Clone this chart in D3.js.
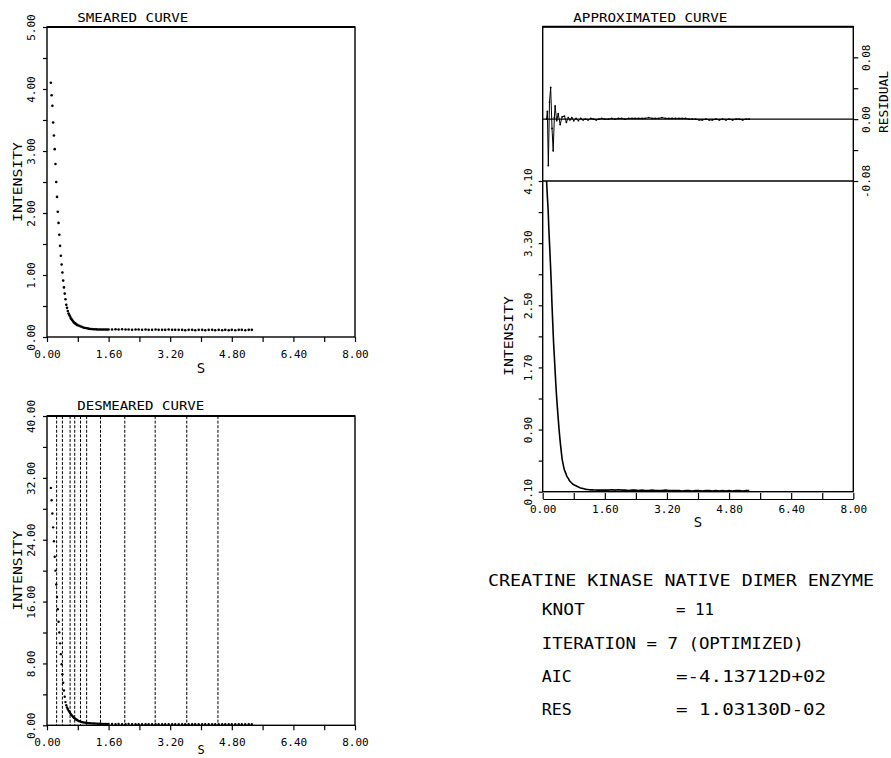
<!DOCTYPE html>
<html><head><meta charset="utf-8">
<script src="https://cdn.jsdelivr.net/npm/d3@7"></script>
<style>body{margin:0;background:#fff} svg{display:block}</style>
</head><body><svg id="c" width="891" height="758"></svg>
<script>
// ---------------- DATA ----------------
const sPts = [0.10,0.12,0.14,0.16,0.18,0.20,0.22,0.24,0.26,0.28,
  0.30,0.32,0.34,0.36,0.38,0.40,0.42,0.44,0.46,0.48,
  0.50,0.52,0.54,0.56,0.58,0.60,0.62,0.64,0.66,0.68,
  0.70,0.72,0.74,0.76,0.78,0.80,
  0.84,0.88,0.92,0.96,1.00,1.04,1.08,1.12,1.16,1.20,
  1.24,1.28,1.32,1.36,1.40,1.44,1.48,1.52,1.56,1.60,
  1.69,1.78,1.86,1.95,2.04,2.12,2.21,2.30,2.38,2.47,2.56,2.64,2.73,2.82,2.90,2.99,3.07,3.16,3.25,3.33,
  3.42,3.51,3.59,3.68,3.77,3.85,3.94,4.03,4.11,4.20,4.29,4.37,4.46,4.55,4.63,4.72,4.80,4.89,4.98,5.06,
  5.15,5.24,5.32];
const smearI = [4.10,3.90,3.73,3.46,3.25,3.03,2.79,2.50,2.26,2.02,
  1.84,1.65,1.47,1.31,1.17,1.04,0.91,0.80,0.70,0.61,
  0.52,0.47,0.42,0.38,0.355,0.33,0.30,0.285,0.27,0.25,
  0.235,0.225,0.215,0.205,0.195,0.19,
  0.18,0.17,0.16,0.15,0.145,0.14,0.135,0.13,0.128,0.125,
  0.124,0.123,0.122,0.121,0.12,0.12,0.12,0.12,0.12,0.12,
  0.12,0.125,0.12,0.125,0.12,0.12,0.115,0.12,0.12,0.115,
  0.12,0.115,0.115,0.12,0.115,0.115,0.115,0.12,0.115,0.115,
  0.115,0.115,0.11,0.115,0.115,0.11,0.115,0.115,0.11,0.115,
  0.115,0.11,0.115,0.11,0.115,0.11,0.115,0.11,0.115,0.115,
  0.11,0.115,0.115];
const desmearI = [30.7,29.1,27.4,25.6,23.8,21.8,20.0,18.2,16.6,15.0,
  13.4,12.0,10.6,9.2,7.9,6.6,5.5,4.5,3.7,3.0,
  2.6,2.3,2.1,1.9,1.75,1.6,1.45,1.32,1.2,1.08,
  0.98,0.9,0.82,0.75,0.68,0.62,
  0.52,0.45,0.40,0.36,0.33,0.30,0.28,0.26,0.25,0.24,
  0.23,0.22,0.21,0.20,0.20,0.19,0.19,0.18,0.18,0.17,
  0.16,0.15,0.16,0.15,0.15,0.16,0.15,0.15,0.14,0.15,
  0.15,0.14,0.15,0.15,0.14,0.15,0.14,0.15,0.14,0.14,
  0.15,0.14,0.14,0.15,0.14,0.14,0.13,0.14,0.14,0.13,
  0.14,0.14,0.13,0.14,0.13,0.14,0.13,0.13,0.14,0.13,
  0.13,0.14,0.13];
const resS = [0.10,0.12,0.145,0.175,0.205,0.24,0.27,0.30,0.32,0.36,0.40,0.45,0.50,0.56,0.61,0.66,
  0.70,0.75,0.80,0.86,0.92,0.98,1.04,1.10,1.17,1.24,1.31,1.38,1.45,1.52,1.60,
  1.69,1.78,1.86,1.95,2.04,2.12,2.21,2.30,2.38,2.47,2.56,2.64,2.73,2.82,2.90,2.99,3.07,3.16,3.25,3.33,
  3.42,3.51,3.59,3.68,3.77,3.85,3.94,4.03,4.11,4.20,4.29,4.37,4.46,4.55,4.63,4.72,4.80,4.89,4.98,5.06,
  5.15,5.24,5.32];
const resV = [0.000,0.010,-0.060,0.022,0.041,-0.012,-0.041,0.002,0.017,-0.002,0.007,-0.007,0.003,0.004,-0.004,0.002,
  -0.001,0.002,-0.002,0.001,-0.002,0.001,-0.001,0.000,-0.001,0.001,0.000,-0.001,0.000,0.001,0.000,
  0.000,0.001,0.000,0.001,0.001,0.000,0.001,0.001,0.001,0.001,0.001,0.001,0.002,0.001,0.001,0.001,0.002,0.001,0.001,0.001,
  0.001,0.001,0.001,0.001,0.000,0.000,0.000,-0.001,-0.001,0.000,-0.001,-0.001,0.000,-0.001,0.000,-0.001,0.000,-0.001,0.000,0.000,
  -0.001,0.000,0.000];
const knots = [0.25,0.40,0.60,0.72,0.87,1.03,1.39,2.02,2.81,3.63,4.44];

const xTickVals = [0,0.8,1.6,2.4,3.2,4.0,4.8,5.6,6.4,7.2,8.0];
const xTickLabels = ["0.00","","1.60","","3.20","","4.80","","6.40","","8.00"];
const smY = [0,0.5,1,1.5,2,2.5,3,3.5,4,4.5,5];
const smYLabels = ["0.00","","1.00","","2.00","","3.00","","4.00","","5.00"];
const dsY = [0,4,8,12,16,20,24,28,32,36,40];
const dsYLabels = ["0.00","","8.00","","16.00","","24.00","","32.00","","40.00"];
const apY = [0.10,0.50,0.90,1.30,1.70,2.10,2.50,2.90,3.30,3.70,4.10];
const apYLabels = ["0.10","","0.90","","1.70","","2.50","","3.30","","4.10"];
const rsY = [-0.08,-0.04,0,0.04,0.08];
const rsYLabels = ["-0.08","","0.00","","0.08"];

// ---------------- DRAW ----------------
const FONT = '"DejaVu Sans Mono", "Liberation Mono", monospace';
const svg = d3.select("#c");
const smear = sPts.map((s,i)=>({s, v: smearI[i]})).filter(d=>d.v!==undefined);
const desm = sPts.map((s,i)=>({s, v: desmearI[i]})).filter(d=>d.v!==undefined);
const resid = resS.map((s,i)=>({s, v: resV[i]})).filter(d=>d.v!==undefined);

function styleAxis(g){
  g.attr("font-family", FONT).attr("font-size", 11);
  g.selectAll(".tick line").attr("stroke","#000").attr("stroke-width",1.2);
  g.selectAll(".tick text").attr("fill","#000");
}
function rotLabels(g, yoff){
  g.selectAll(".tick text").attr("transform","rotate(-90)")
    .attr("x",0).attr("y",yoff).attr("dy",0).attr("text-anchor","middle");
}
function txt(x,y,str,size,len,rot){
  const t = svg.append("text").attr("font-family",FONT).attr("font-size",size).attr("fill","#000").text(str);
  if(rot){ t.attr("transform",`translate(${x},${y}) rotate(-90)`).attr("text-anchor","middle"); }
  else t.attr("x",x).attr("y",y);
  if(len) t.attr("textLength",len).attr("lengthAdjust","spacingAndGlyphs");
  return t;
}

function leftPanel(top, bot, yDom, yVals, yLabs, title, titleY, titleLen){
  const x = d3.scaleLinear().domain([0,8]).range([47,355]);
  const y = d3.scaleLinear().domain(yDom).range([bot, top]);
  svg.append("rect").attr("x",47).attr("y",top).attr("width",308).attr("height",bot-top)
    .attr("fill","none").attr("stroke","#000").attr("stroke-width",1.4);
  svg.append("line").attr("x1",47).attr("x2",355).attr("y1",top).attr("y2",top).attr("stroke","#000").attr("stroke-width",2);
  const gx = svg.append("g").attr("transform",`translate(0,${bot})`)
    .call(d3.axisBottom(x).tickValues(xTickVals).tickSize(5).tickSizeOuter(0).tickFormat((d,i)=>xTickLabels[i]));
  gx.select(".domain").remove(); styleAxis(gx);
  gx.selectAll(".tick text").attr("y",21).attr("dy",0);
  const gy = svg.append("g").attr("transform",`translate(47,0)`)
    .call(d3.axisLeft(y).tickValues(yVals).tickSize(4).tickSizeOuter(0).tickFormat((d,i)=>yLabs[i]));
  gy.select(".domain").remove(); styleAxis(gy); rotLabels(gy,-12);
  txt(77.3, titleY, title, 12, titleLen);
  txt(22, (top+bot)/2, "INTENSITY", 13, 80, true);
  return {x,y};
}

// Smeared curve
const p1 = leftPanel(27, 337, [0,5], smY, smYLabels, "SMEARED CURVE", 21.7, 111);
svg.append("g").selectAll("circle").data(smear).join("circle")
  .attr("cx",d=>p1.x(d.s)).attr("cy",d=>p1.y(d.v)).attr("r",1.3).attr("fill","#000");
txt(201, 373, "S", 14).attr("text-anchor","middle");

// Desmeared curve
const p2 = leftPanel(416, 725.3, [0,40], dsY, dsYLabels, "DESMEARED CURVE", 410, 127);
svg.append("g").selectAll("line").data(knots).join("line")
  .attr("x1",d=>p2.x(d)).attr("x2",d=>p2.x(d)).attr("y1",416).attr("y2",725.3)
  .attr("stroke","#000").attr("stroke-width",1).attr("stroke-dasharray","3,1.6");
svg.append("g").selectAll("circle").data(desm).join("circle")
  .attr("cx",d=>p2.x(d.s)).attr("cy",d=>p2.y(d.v)).attr("r",1.2).attr("fill","#000");
txt(201, 754, "S", 12).attr("text-anchor","middle");

// Approximated curve (right)
const R = {x0:542.7, x1:853.3, top:26.7, sep:181, bot:491.7};
const xR = d3.scaleLinear().domain([0,8]).range([R.x0,R.x1]);
const yR = d3.scaleLinear().domain([0.10,4.10]).range([R.bot,R.sep]);
const yRes = d3.scaleLinear().domain([-0.08,0.12]).range([R.sep,R.top-0.3]);
svg.append("rect").attr("x",R.x0).attr("y",R.top).attr("width",R.x1-R.x0).attr("height",R.bot-R.top)
  .attr("fill","none").attr("stroke","#000").attr("stroke-width",1.4);
svg.append("line").attr("x1",R.x0).attr("x2",R.x1).attr("y1",R.top).attr("y2",R.top).attr("stroke","#000").attr("stroke-width",2);
svg.append("line").attr("x1",R.x0).attr("x2",R.x1).attr("y1",R.sep).attr("y2",R.sep).attr("stroke","#000").attr("stroke-width",1.6);
svg.append("line").attr("x1",R.x0).attr("x2",R.x1).attr("y1",yRes(0)).attr("y2",yRes(0)).attr("stroke","#000").attr("stroke-width",1.1);

const gRy = svg.append("g").attr("transform",`translate(${R.x0},0)`)
  .call(d3.axisLeft(yR).tickValues(apY).tickSize(4).tickSizeOuter(0).tickFormat((d,i)=>apYLabels[i]));
gRy.select(".domain").remove(); styleAxis(gRy); rotLabels(gRy,-10.7);
const gRr = svg.append("g").attr("transform",`translate(${R.x1},0)`)
  .call(d3.axisRight(yRes).tickValues(rsY).tickSize(5).tickSizeOuter(0).tickFormat((d,i)=>rsYLabels[i]));
gRr.select(".domain").remove(); styleAxis(gRr); rotLabels(gRr,17);
const gRx = svg.append("g").attr("transform",`translate(0,499)`)
  .call(d3.axisTop(xR).tickValues(xTickVals).tickSize(6).tickSizeOuter(0).tickFormat((d,i)=>xTickLabels[i]));
styleAxis(gRx); gRx.select(".domain").attr("stroke","#000").attr("stroke-width",1.2);
gRx.selectAll(".tick text").attr("y",14).attr("dy",0);

svg.append("path").datum(smear).attr("fill","none").attr("stroke","#000").attr("stroke-width",1.6)
  .attr("d", d3.line().x(d=>xR(d.s)).y(d=>yR(d.v)));
svg.append("path").datum(resid).attr("fill","none").attr("stroke","#000").attr("stroke-width",1)
  .attr("d", d3.line().x(d=>xR(d.s)).y(d=>yRes(d.v)));
svg.append("g").selectAll("circle").data(resid).join("circle")
  .attr("cx",d=>xR(d.s)).attr("cy",d=>yRes(d.v)).attr("r",0.9).attr("fill","#000");

txt(573.3, 21.7, "APPROXIMATED CURVE", 12, 154);
txt(513, 336, "INTENSITY", 13, 80, true);
txt(888, 102, "RESIDUAL", 13, 62, true);
txt(698, 527, "S", 14).attr("text-anchor","middle");

// Annotation block
txt(488, 586, "CREATINE KINASE NATIVE DIMER ENZYME", 16, 386);
txt(541.7, 615, "KNOT", 16, 43);
txt(676, 615, "= 11", 16, 38);
txt(541.7, 649, "ITERATION = 7 (OPTIMIZED)", 16, 262);
txt(541.7, 682, "AIC", 16, 30);
txt(676, 682, "=-4.13712D+02", 16, 150);
txt(541.7, 715, "RES", 16, 30);
txt(676, 715, "= 1.03130D-02", 16, 150);
</script></body></html>
